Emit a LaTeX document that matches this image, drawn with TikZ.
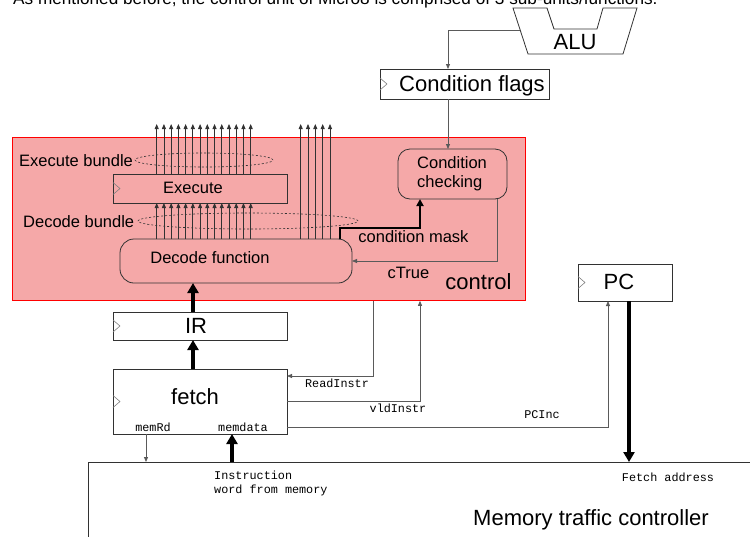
\documentclass[tikz,border=0pt]{standalone}
\usepackage{fontspec}
\setmainfont{Liberation Sans}
\newfontfamily\monof{Liberation Mono}
\usetikzlibrary{arrows.meta,shapes.geometric}
\definecolor{ctrlfill}{RGB}{245,168,168}
\definecolor{linec}{RGB}{50,50,50}
\definecolor{connc}{RGB}{90,90,90}
\begin{document}
\begin{tikzpicture}[x=1pt,y=-1pt,
  box/.style={draw=linec, line width=0.8pt, inner sep=0pt, outer sep=0pt},
  conn/.style={draw=connc, line width=0.8pt, -{Triangle[length=5pt,width=4pt]}},
  bar/.style={draw=linec, line width=0.8pt, -{Triangle[length=5pt,width=4pt]}},
  fat/.style={draw=black, line width=3.5pt, -{Triangle[length=10pt,width=11pt]}},
  mask/.style={draw=black, line width=2.5pt, -{Triangle[length=7pt,width=7pt]}},
  big/.style={font=\fontsize{22}{26}\selectfont, inner sep=0pt},
  mid/.style={font=\fontsize{16.5}{19}\selectfont, inner sep=0pt},
  mono/.style={font=\monof\fontsize{11.8}{14}\selectfont, inner sep=0pt},
  clkline/.style={draw=gray, line width=0.6pt},
  bundle/.style={draw=linec, dash pattern=on 2pt off 2pt, line width=0.6pt, ellipse, inner sep=0pt},
]
\useasboundingbox (0,0) rectangle (750,536);
\clip (0,0) rectangle (750,536);

% intro text (cut at the top)
\node[anchor=base west, inner sep=0pt, font=\fontsize{17.2}{20}\selectfont] (intro) at (13,4.5) {As mentioned before, the control unit of Micro8 is comprised of 3 sub-units/functions.};

% control region
\node[draw=red, line width=0.8pt, fill=ctrlfill, minimum width=513pt, minimum height=163pt, anchor=north west, inner sep=0pt] (ctrl) at (12,137) {};

% bundles
\node[bundle, minimum width=138pt, minimum height=14pt] (eb) at (204,160) {};
\node[bundle, minimum width=220pt, minimum height=16pt] (db) at (248,221) {};
\node[mid, anchor=west] (ebl) at (19,161) {Execute bundle};
\node[mid, anchor=west] (dbl) at (23,222) {Decode bundle};

% boxes in control
\node[box, minimum width=174pt, minimum height=29pt] (exe) at (200,188.5) {};
\node[mid] (exet) at (193,188) {Execute};
\node[box, rounded corners=14pt, minimum width=232pt, minimum height=44pt] (df) at (236,261) {};
\node[mid] (dft) at (210,258) {Decode function};
\node[box, rounded corners=12pt, minimum width=109pt, minimum height=50pt] (cc) at (452.5,174) {};
\node[mid, align=left, anchor=west] (cct) at (417,173.5) {Condition\\checking};
\node[mid] (cml) at (413.5,237) {condition mask};
\node[mid] (ctl) at (408.5,273) {cTrue};
\node[big] (ctrll) at (478.5,282) {control};

% bundle arrows
\coordinate (bt) at (0,124);
\foreach \i in {0,...,13} {
  \pgfmathsetmacro\bx{156.7+7.23*\i}
  \draw[bar] (\bx,0 |- exe.north) -- (\bx,0 |- bt);
  \draw[bar] (\bx,0 |- df.north) -- (\bx,0 |- exe.south);
}
\foreach \bx in {300.7,308,315.3,322.7,330} {
  \draw[bar] (\bx,0 |- df.north) -- (\bx,0 |- bt);
}

% condition flags and ALU
\node[box, minimum width=169pt, minimum height=30pt] (cf) at (464.5,84) {};
\node[big] (cft) at (472,86) {Condition flags};
\draw[linec, line width=0.8pt] (513,8) -- (547,8) -- (554,29) -- (597,29) -- (603,8) -- (637,8) -- (623,54) -- (528,54) -- cycle;
\node[big] (alu) at (575,42.5) {ALU};
\coordinate (alul) at (520,30);
\draw[conn] (alul) -| ([xshift=68pt]cf.north west);
\coordinate (cfb) at ([xshift=68pt]cf.south west);
\draw[conn] (cfb) -- (cfb |- cc.north);

% condition mask and cTrue
\coordinate (cms) at ([xshift=220pt]df.north west);
\coordinate (cme) at ([xshift=22pt]cc.south west);
\draw[mask] (cms) -- ++(0,-11) -| (cme);
\coordinate (ctb) at ([xshift=99pt]cc.south west);
\draw[conn] (ctb) |- (df.east);

% IR, fetch, PC, memory
\node[box, big, minimum width=174pt, minimum height=28pt] (ir) at (200,326) {};
\node[big] (irt) at (196,326) {IR};
\node[box, minimum width=174pt, minimum height=65pt] (fetch) at (200,401.5) {};
\node[big] (fetcht) at (195,397) {fetch};
\node[box, minimum width=94pt, minimum height=37pt] (pc) at (625,282.5) {};
\node[big] (pct) at (619,282) {PC};
\node[box, minimum width=700pt, minimum height=150pt, anchor=north west] (mem) at (88,462) {};
\node[big] (memt) at (591,520) {Memory traffic controller};

% clock marks
\foreach \n in {exe,cf,ir,fetch,pc} {
  \draw[clkline] ([yshift=6pt]\n.west) -- ++(7pt,-6pt) -- ++(-7pt,-6pt);
}

% connectors
\coordinate (ri) at ([xshift=361pt]ctrl.south west);
\draw[conn] (ri) |- ([yshift=-7pt]fetch.north east);
\coordinate (vi) at ([xshift=408pt]ctrl.south west);
\draw[conn] (fetch.east) -| (vi);
\coordinate (pci) at ([xshift=30pt]pc.south west);
\draw[conn] ([yshift=7pt]fetch.south east) -| (pci);
\coordinate (mr) at ([xshift=33pt]fetch.south west);
\draw[conn] (mr) -- (mr |- mem.north);
\coordinate (md) at ([xshift=119pt]fetch.south west);
\draw[fat] (md |- mem.north) -- (md);
\coordinate (pcb) at ([xshift=4pt]pc.south);
\draw[fat] (pcb) -- (pcb |- mem.north);
\coordinate (irtop) at ([xshift=80pt]ir.north west);
\draw[fat] (irtop) -- (irtop |- df.south);
\coordinate (ftop) at ([xshift=80pt]fetch.north west);
\draw[fat] (ftop) -- (ftop |- ir.south);

% signal labels
\node[mono] (l1) at (153,427) {memRd};
\node[mono] (l2) at (243,427) {memdata};
\node[mono] (l3) at (337,383) {ReadInstr};
\node[mono] (l4) at (398,408) {vldInstr};
\node[mono] (l5) at (542,415) {PCInc};
\node[mono] (l6) at (668,477) {Fetch address};
\node[mono, align=left, anchor=north west] (l7) at (214,471) {Instruction\\word from memory};
\end{tikzpicture}
\end{document}
